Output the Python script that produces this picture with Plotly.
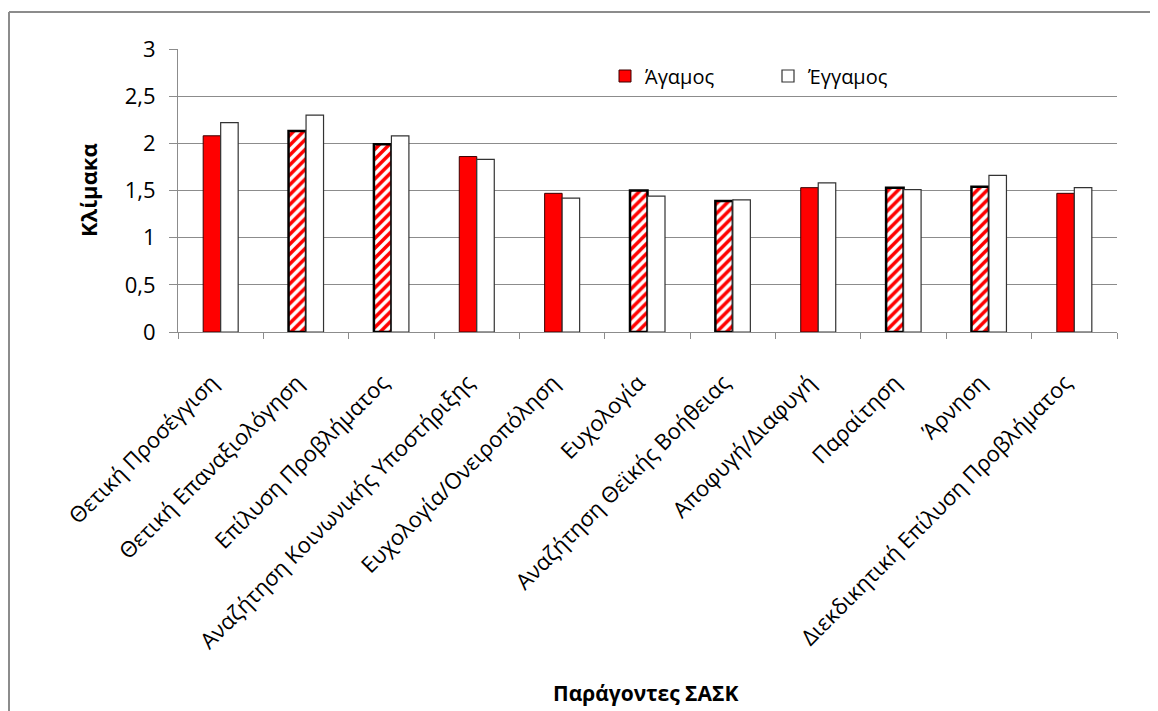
import plotly.graph_objects as go

categories = [
    "Θετική Προσέγγιση",
    "Θετική Επαναξιολόγηση",
    "Επίλυση Προβλήματος",
    "Αναζήτηση Κοινωνικής Υποστήριξης",
    "Ευχολογία/Ονειροπόληση",
    "Ευχολογία",
    "Αναζήτηση Θεϊκής Βοήθειας",
    "Αποφυγή/Διαφυγή",
    "Παραίτηση",
    "Άρνηση",
    "Διεκδικητική Επίλυση Προβλήματος",
]
agamos = [2.08, 2.13, 1.99, 1.86, 1.47, 1.50, 1.39, 1.53, 1.53, 1.54, 1.47]
eggamos = [2.22, 2.30, 2.08, 1.83, 1.42, 1.44, 1.40, 1.58, 1.51, 1.66, 1.53]
hatched = [False, True, True, False, False, True, True, False, True, True, False]

FONT = "Open Sans"
red = "#FF0000"

# page body has an 8px margin; plot area target (window px): x 178..1117, y 49..332
W, H = 1150, 703
L, T = 170, 41
PW, PH = 939, 283
R = W - L - PW
B = H - T - PH


def px_x(wx):
    return (wx - 178) / PW


def px_y(wy):
    return (332 - wy) / PH


fig = go.Figure()
fig.add_trace(go.Bar(
    name="Άγαμος",
    x=categories,
    y=[None if h else v for v, h in zip(agamos, hatched)],
    offsetgroup="a",
    marker=dict(color=red, line=dict(color="#3a0000", width=1)),
))
fig.add_trace(go.Bar(
    name="Άγαμος ",
    x=categories,
    y=[v if h else None for v, h in zip(agamos, hatched)],
    offsetgroup="a",
    showlegend=False,
    marker=dict(
        color="white",
        line=dict(color="#000000", width=2.5),
        pattern=dict(shape="/", fgcolor=red, bgcolor="white", size=7, solidity=0.5,
                     fillmode="replace"),
    ),
))
fig.add_trace(go.Bar(
    name="Έγγαμος",
    x=categories,
    y=eggamos,
    offsetgroup="b",
    marker=dict(color="white", line=dict(color="#333333", width=1.2)),
))

fig.update_layout(
    width=W, height=H,
    margin=dict(l=L, r=R, t=T, b=B, autoexpand=False),
    paper_bgcolor="white", plot_bgcolor="white",
    separators=",.",
    barmode="group", bargap=0.59, bargroupgap=0,
    font=dict(family=FONT, size=16, color="#000000"),
    showlegend=True,
    legend=dict(orientation="h", x=px_x(605), y=px_y(76), xanchor="left", yanchor="middle",
                font=dict(family=FONT, size=20), entrywidth=118,
                bgcolor="rgba(0,0,0,0)", traceorder="normal"),
    xaxis=dict(
        tickangle=-45, showline=True, linecolor="#8c8c8c", linewidth=1,
        ticks="outside", tickson="boundaries", ticklen=6, tickcolor="#8c8c8c",
        ticklabelstandoff=28, ticklabelshift=-9,
        tickfont=dict(family=FONT, size=22), automargin=False,
        showgrid=False,
    ),
    yaxis=dict(
        range=[0, 3], dtick=0.5, showline=True, linecolor="#8c8c8c", linewidth=1,
        ticks="outside", ticklen=8, tickcolor="#8c8c8c", ticklabelstandoff=9,
        showgrid=True, gridcolor="#8c8c8c", gridwidth=1,
        tickfont=dict(family=FONT, size=22), automargin=False,
        zeroline=False,
    ),
    annotations=[
        dict(text="<b>Κλίμακα</b>", xref="paper", yref="paper", x=px_x(88), y=px_y(190),
             textangle=-90, showarrow=False, font=dict(family=FONT, size=22),
             xanchor="center", yanchor="middle"),
        dict(text="<b>Παράγοντες ΣΑΣΚ</b>", xref="paper", yref="paper", x=px_x(645),
             y=px_y(693), showarrow=False, font=dict(family=FONT, size=21),
             xanchor="center", yanchor="middle"),
    ],
    shapes=[
        dict(type="line", xref="paper", yref="paper",
             x0=px_x(9), x1=1.2, y0=px_y(12), y1=px_y(12),
             line=dict(color="#8c8c8c", width=2)),
        dict(type="line", xref="paper", yref="paper",
             x0=px_x(9), x1=px_x(9), y0=px_y(12), y1=-1.5,
             line=dict(color="#8c8c8c", width=2)),
    ],
)

fig.write_html("out.html")
